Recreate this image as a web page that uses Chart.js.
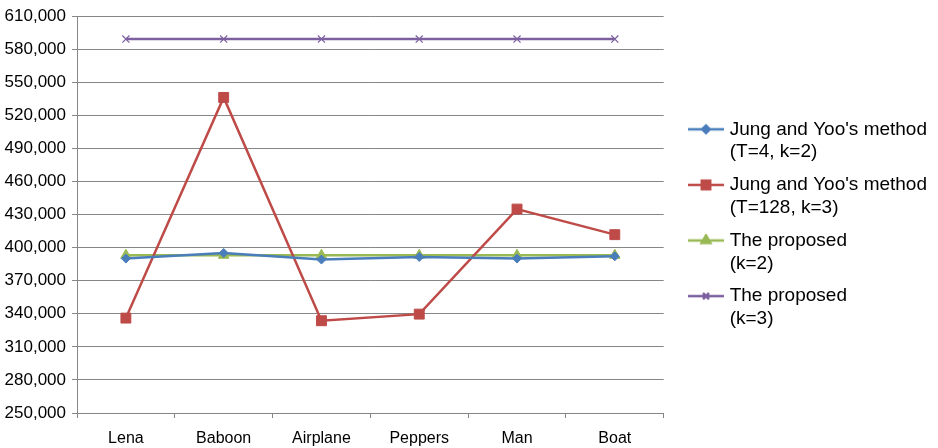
<!DOCTYPE html>
<html>
<head>
    <title>chart</title>
    <script src="https://cdn.jsdelivr.net/npm/chart.js@4.4.1/dist/chart.umd.min.js"></script>
    <style>
        html, body { margin: 0; padding: 0; background: #fff; }
        #wrap { width: 938px; height: 448px; }
    </style>
</head>
<body>
<div id="wrap"><canvas id="stage"></canvas></div>
<script>
    var categories = ["Lena", "Baboon", "Airplane", "Peppers", "Man", "Boat"];
    var jungT4 = [390100, 395200, 389200, 391600, 390100, 392200];
    var jungT128 = [336100, 536300, 333700, 339700, 435000, 411800];
    var proposedK2 = [393100, 393100, 393100, 393100, 393100, 393100];
    var proposedK3 = [589300, 589300, 589300, 589300, 589300, 589300];
    var seriesNames = [
        ["Jung and Yoo's method", "(T=4, k=2)"],
        ["Jung and Yoo's method", "(T=128, k=3)"],
        ["The proposed", "(k=2)"],
        ["The proposed", "(k=3)"]
    ];
    var colors = ["#4A7EBB", "#BE4B48", "#98B954", "#7D60A0"];
    var markers = ["rectRot", "rect", "triangle", "crossRot"];
    var markerSizes = [4.5, 7, 6, 5];
    var yMin = 250000, yMax = 610000, yStep = 30000;

    // legend icon: a line with the marker in the middle (transparent space on the left)
    function legendIcon(color, style, r) {
        var c = document.createElement('canvas');
        c.width = 54; c.height = 14;
        var g = c.getContext('2d');
        g.strokeStyle = color; g.fillStyle = color; g.lineWidth = 2.5;
        g.beginPath(); g.moveTo(18, 7); g.lineTo(54, 7); g.stroke();
        Chart.helpers.drawPoint(g, {pointStyle: style, radius: r * 0.85, borderWidth: style == 'crossRot' ? 1.2 : 1}, 36, 7);
        return c;
    }

    Chart.defaults.font.family = "'Liberation Sans', Arial, sans-serif";
    Chart.defaults.color = "#000";

    var sets = [jungT4, jungT128, proposedK2, proposedK3];
    var datasets = [];
    for (var i = 0; i < sets.length; i++) {
        datasets.push({
            label: seriesNames[i].join(' '),
            data: sets[i],
            borderColor: colors[i],
            backgroundColor: colors[i],
            borderWidth: 2.5,
            pointStyle: markers[i],
            pointRadius: markerSizes[i],
            pointBorderWidth: markers[i] == 'crossRot' ? 1.2 : 1,
            tension: 0
        });
    }

    new Chart(document.getElementById('stage'), {
        type: 'line',
        data: { labels: categories, datasets: datasets },
        options: {
            responsive: true,
            maintainAspectRatio: false,
            animation: false,
            layout: { padding: { top: 4, left: 3, right: 1, bottom: 0 } },
            plugins: {
                tooltip: { enabled: false },
                legend: {
                    position: 'right',
                    align: 'center',
                    maxWidth: 320,
                    labels: {
                        usePointStyle: true,
                        pointStyleWidth: 46.5,
                        padding: 10,
                        font: { size: 19, lineHeight: 1.2 },
                        generateLabels: function (chart) {
                            return chart.data.datasets.map(function (ds, i) {
                                return {
                                    text: seriesNames[i],
                                    pointStyle: legendIcon(colors[i], markers[i], markerSizes[i]),
                                    fillStyle: colors[i],
                                    strokeStyle: colors[i],
                                    lineWidth: 0,
                                    datasetIndex: i,
                                    hidden: false
                                };
                            });
                        }
                    }
                }
            },
            scales: {
                x: {
                    offset: true,
                    grid: { offset: true, drawOnChartArea: false, drawTicks: true, tickLength: 5, color: '#868686' },
                    border: { color: '#868686' },
                    ticks: { font: { size: 16 }, padding: 11 },
                    afterFit: function (s) { s.height = 35; }
                },
                y: {
                    min: yMin,
                    max: yMax,
                    ticks: {
                        stepSize: yStep,
                        font: { size: 17 },
                        padding: 6,
                        callback: function (v) { return v.toLocaleString('en-US'); }
                    },
                    grid: { color: '#868686', tickLength: 5 },
                    border: { color: '#868686' },
                    afterFit: function (s) { s.width = 74; }
                }
            }
        }
    });
</script>
</body>
</html>
